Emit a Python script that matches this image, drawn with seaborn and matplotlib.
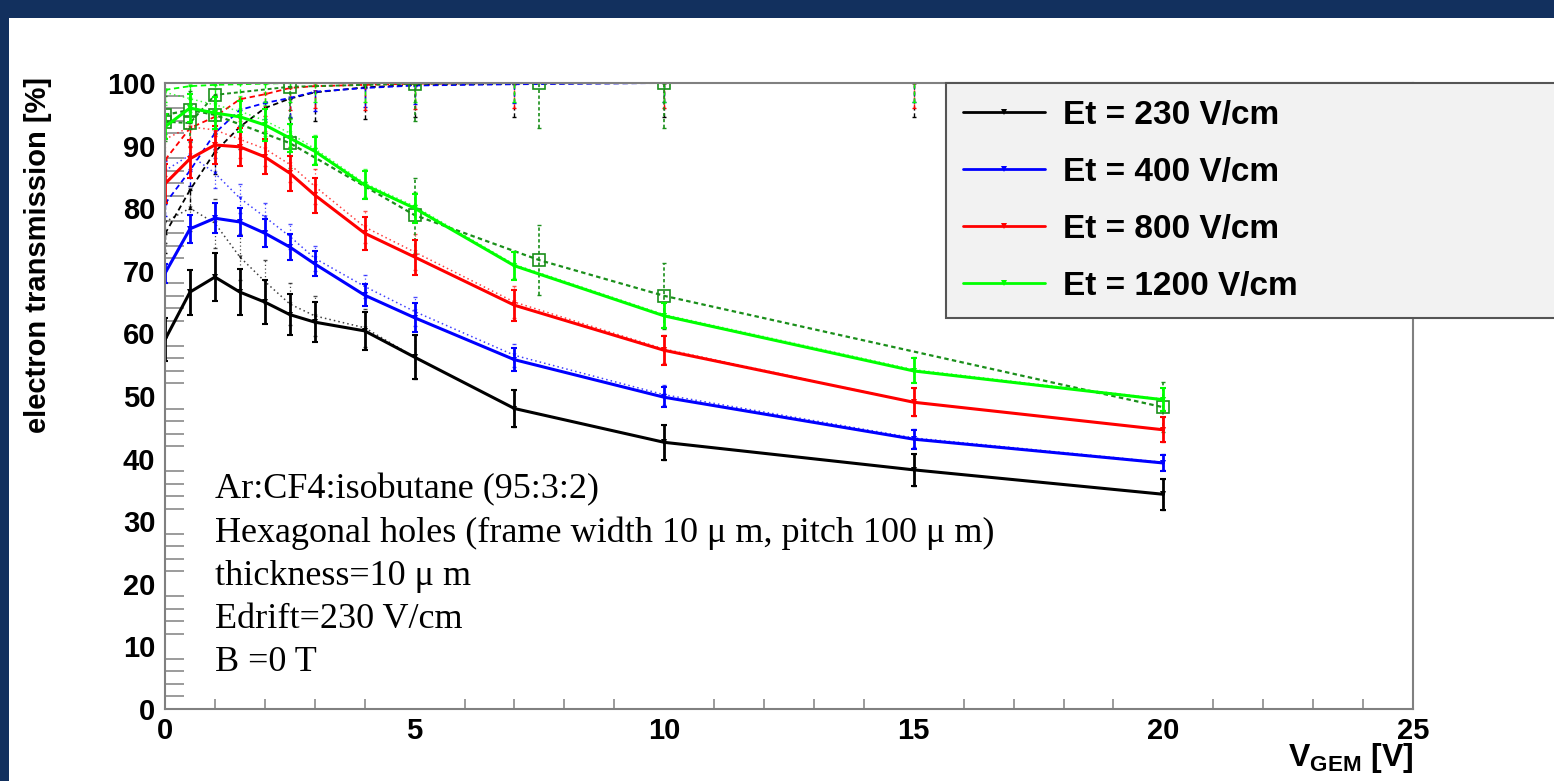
import numpy as np
import pandas as pd
import matplotlib
matplotlib.use('Agg')
import matplotlib.pyplot as plt
from matplotlib.lines import Line2D
from matplotlib.patches import Rectangle
from matplotlib.ticker import MultipleLocator
import seaborn as sns

# ---- data ----
v_gem = [0, 0.5, 1, 1.5, 2, 2.5, 3, 4, 5, 7, 10, 15, 20]
et_labels = ['Et = 230 V/cm', 'Et = 400 V/cm', 'Et = 800 V/cm', 'Et = 1200 V/cm']
et_colors = ['#000000', '#0000ff', '#ff0000', '#00ff00']

# solid curves: electron transmission
trans_230 = [59.0, 66.6, 69.0, 66.6, 65.0, 63.0, 61.8, 60.4, 56.2, 48.0, 42.6, 38.2, 34.3]
trans_400 = [69.6, 76.7, 78.4, 77.8, 76.0, 73.8, 71.1, 66.1, 62.5, 55.8, 49.8, 43.1, 39.3]
trans_800 = [83.9, 87.9, 90.1, 89.8, 88.2, 85.6, 82.1, 76.0, 72.2, 64.5, 57.3, 49.0, 44.6]
trans_1200 = [93.0, 96.0, 95.2, 94.6, 93.3, 91.2, 89.1, 83.7, 80.0, 70.8, 62.8, 54.0, 49.4]
err_230 = [3.4, 3.6, 3.9, 3.7, 3.5, 3.3, 3.2, 3.0, 3.5, 3.0, 2.8, 2.6, 2.5]
err_400 = [1.5, 2.2, 2.4, 2.3, 2.2, 2.0, 2.0, 1.8, 2.3, 1.8, 1.6, 1.5, 1.3]
err_800 = [3.1, 3.0, 3.0, 3.0, 2.8, 2.8, 2.8, 2.6, 2.8, 2.5, 2.3, 2.2, 2.0]
err_1200 = [2.0, 2.2, 2.5, 2.5, 2.5, 2.3, 2.2, 2.2, 2.3, 2.2, 2.0, 2.0, 1.8]

# dotted curves
dot_230 = [77.8, 80.0, 77.6, 72.2, 68.3, 64.7, 62.8, 60.9, 56.2, 48.0, 42.6, 38.2, 34.3]
dot_400 = [86.0, 88.5, 85.6, 81.6, 78.6, 75.5, 72.0, 67.5, 63.5, 56.5, 50.2, 43.3, 39.4]
dot_800 = [91.0, 93.0, 92.5, 91.0, 89.5, 87.0, 83.5, 77.0, 73.0, 65.0, 57.5, 49.0, 44.6]
dot_1200 = [98.5, 97.5, 96.5, 95.5, 94.0, 92.0, 89.5, 84.0, 80.3, 71.0, 63.0, 54.2, 49.5]

# dashed curves rising to 100 %
dash_230 = [75.9, 82.9, 89.0, 93.0, 96.0, 97.5, 98.5, 99.3, 99.7, 99.9, 100.0, 100.0, 100.0]
dash_400 = [80.7, 86.0, 92.0, 95.7, 96.8, 97.6, 98.6, 99.2, 99.6, 99.8, 100.0, 100.0, 100.0]
dash_800 = [87.7, 92.8, 94.6, 97.4, 98.2, 99.2, 99.5, 99.7, 99.9, 100.0, 100.0, 100.0, 100.0]
dash_1200 = [98.9, 99.5, 99.7, 99.8, 99.9, 100.0, 100.0, 100.0, 100.0, 100.0, 100.0, 100.0, 100.0]
dash_lo_230 = [3.0, 3.0, 3.5, 3.5, 4.0, 4.0, 4.5, 5.0, 5.2, 5.4, 5.4, 5.4, 5.4]
dash_lo_400 = [2.0, 2.5, 2.5, 2.5, 2.5, 3.0, 3.0, 3.0, 3.0, 3.0, 3.0, 3.0, 3.0]
dash_lo_800 = [2.5, 3.0, 3.0, 3.0, 3.5, 3.5, 3.5, 4.0, 4.0, 4.0, 4.0, 4.0, 4.0]
dash_lo_1200 = [2.0, 2.0, 2.5, 2.5, 3.0, 3.0, 3.0, 3.0, 3.0, 3.0, 3.0, 3.0, 3.0]

# dark green squares
sq_v = [0, 0.5, 1, 2.5, 5, 7.5, 10, 20]
sq_low = [94.9, 95.7, 94.9, 90.4, 78.9, 71.7, 66.0, 48.2]
sq_low_err = [3.0, 3.0, 3.0, 4.0, 6.0, 5.6, 5.3, 4.0]
sq_high = [93.8, 93.6, 98.1, 99.4, 99.9, 100.0, 100.0, 100.0]
sq_high_lo = [3.0, 3.0, 4.0, 5.0, 6.0, 7.2, 7.2, 7.0]

annot_lines = ['Ar:CF4:isobutane (95:3:2)',
               'Hexagonal holes (frame width 10 \u03bc m, pitch 100 \u03bc m)',
               'thickness=10 \u03bc m',
               'Edrift=230 V/cm',
               'B =0 T']

solid = [trans_230, trans_400, trans_800, trans_1200]
solid_err = [err_230, err_400, err_800, err_1200]
dotted = [dot_230, dot_400, dot_800, dot_1200]
dashed = [dash_230, dash_400, dash_800, dash_1200]
dashed_lo = [dash_lo_230, dash_lo_400, dash_lo_800, dash_lo_1200]

rows = []
for lab, s, d, u in zip(et_labels, solid, dotted, dashed):
    for i, v in enumerate(v_gem):
        rows.append((lab, 'solid', v, s[i]))
        rows.append((lab, 'dotted', v, d[i]))
        rows.append((lab, 'dashed', v, u[i]))
df = pd.DataFrame(rows, columns=['Et', 'kind', 'V', 'T'])
pal = dict(zip(et_labels, et_colors))

sns.set_theme(style='white')
plt.rcParams['font.family'] = ['Liberation Sans', 'DejaVu Sans']
plt.rcParams['text.color'] = 'black'
plt.rcParams['mathtext.fontset'] = 'custom'
plt.rcParams['mathtext.bf'] = 'Liberation Sans:bold'
plt.rcParams['mathtext.rm'] = 'Liberation Sans'

fig = plt.figure(figsize=(15.54, 7.81), dpi=100)
fig.patch.set_facecolor('#12305e')
fig.patches.append(Rectangle((9 / 1554, 0), 1, 1 - 18 / 781, transform=fig.transFigure,
                             facecolor='white', edgecolor='none', zorder=-10))
ax = fig.add_axes([165 / 1554, 1 - 709 / 781, 1248 / 1554, 626 / 781])
ax.set_facecolor('white')

# upper dashed curves
sns.lineplot(data=df[df.kind == 'dashed'], x='V', y='T', hue='Et', palette=pal, ax=ax,
             legend=False, sort=False, estimator=None, lw=1.3, linestyle=(0, (3, 2)),
             marker='v', markersize=3, markeredgewidth=0)
for c, y, lo in zip(et_colors, dashed, dashed_lo):
    eb = ax.errorbar(v_gem, y, yerr=[lo, [0] * len(lo)], fmt='none', ecolor=c,
                     elinewidth=1.0, capsize=1.5)
    eb[2][0].set_linestyle((0, (3, 2)))

# dotted curves
sns.lineplot(data=df[df.kind == 'dotted'], x='V', y='T', hue='Et', palette=pal, ax=ax,
             legend=False, sort=False, estimator=None, lw=1.1, linestyle=(0, (1, 2)),
             alpha=0.75, marker='v', markersize=3, markeredgewidth=0)
for c, y, e in zip(et_colors, dotted, solid_err):
    eb = ax.errorbar(v_gem, y, yerr=e, fmt='none', ecolor=c, elinewidth=0.9,
                     capsize=1.5, alpha=0.7)
    eb[2][0].set_linestyle((0, (1, 2)))

# dark green squares
sq_col = '#1a8f1a'
ax.plot(sq_v, sq_low, color=sq_col, lw=1.6, ls=(0, (2, 1.5)), marker='s', ms=8,
        mfc='none', mec=sq_col, mew=1.2)
ax.plot(sq_v, sq_high, color=sq_col, lw=1.4, ls=(0, (2, 1.5)), marker='s', ms=8,
        mfc='none', mec=sq_col, mew=1.2)
eb = ax.errorbar(sq_v, sq_low, yerr=sq_low_err, fmt='none', ecolor=sq_col,
                 elinewidth=1.2, capsize=1.5)
eb[2][0].set_linestyle((0, (2, 1.5)))
eb = ax.errorbar(sq_v, sq_high, yerr=[sq_high_lo, [0] * len(sq_high_lo)], fmt='none',
                 ecolor=sq_col, elinewidth=1.2, capsize=1.5)
eb[2][0].set_linestyle((0, (2, 1.5)))

# solid transmission curves
sns.lineplot(data=df[df.kind == 'solid'], x='V', y='T', hue='Et', palette=pal, ax=ax,
             legend=False, sort=False, estimator=None, lw=2.2,
             marker='v', markersize=4, markeredgewidth=0)
for c, y, e in zip(et_colors, solid, solid_err):
    ax.errorbar(v_gem, y, yerr=e, fmt='none', ecolor=c, elinewidth=2.0, capsize=2.5,
                capthick=1.5)

ax.set_xlim(0, 25)
ax.set_ylim(0, 100)
ax.xaxis.set_major_locator(MultipleLocator(5))
ax.xaxis.set_minor_locator(MultipleLocator(1))
ax.yaxis.set_major_locator(MultipleLocator(10))
ax.yaxis.set_minor_locator(MultipleLocator(2))
ax.set_xlabel('')
ax.set_ylabel('')
frame_col = '#808080'
for sp in ax.spines.values():
    sp.set_color(frame_col)
    sp.set_linewidth(1.5)
ax.tick_params(axis='y', which='major', direction='in', length=27, width=1.3,
               color=frame_col, pad=7, labelsize=21, labelcolor='black')
ax.tick_params(axis='y', which='minor', direction='in', length=14, width=1.1,
               color=frame_col, left=True)
ax.tick_params(axis='x', which='major', direction='in', length=14, width=1.3,
               color=frame_col, pad=6, labelsize=21, labelcolor='black')
ax.tick_params(axis='x', which='minor', direction='in', length=7, width=1.1,
               color=frame_col, bottom=True)
for lab in ax.get_xticklabels() + ax.get_yticklabels():
    lab.set_fontweight('bold')

fig.text(38 / 1554, 1 - 255 / 781, 'electron transmission [%]', rotation=90,
         ha='center', va='center', fontsize=21, fontweight='bold', color='black')
fig.text(1413 / 1554, 1 - 758 / 781, r'V$_{\mathbf{GEM}}$ [V]', ha='right',
         va='center', fontsize=23, fontweight='bold', color='black')

for i, t in enumerate(annot_lines):
    ax.text(0.040, (709 - 490 - 43.2 * i) / 626, t, transform=ax.transAxes,
            ha='left', va='center', fontsize=26, color='black',
            family=['Liberation Serif', 'DejaVu Serif'])

handles = [Line2D([], [], color=c, lw=2, marker='v', markersize=5, markeredgewidth=0)
           for c in et_colors]
leg = ax.legend(handles, et_labels, loc='upper left', mode='expand',
                bbox_to_anchor=(946 / 1554, 0, 700 / 1554, 1 - 83 / 781),
                bbox_transform=fig.transFigure, borderaxespad=0, numpoints=1,
                handlelength=2.46, handletextpad=0.54, labelspacing=0.78,
                borderpad=0.5, fancybox=False, framealpha=1,
                prop={'weight': 'bold', 'size': 24})
for txt in leg.get_texts():
    txt.set_color('black')
leg.get_frame().set_facecolor('#f2f2f2')
leg.get_frame().set_edgecolor('#555555')
leg.get_frame().set_linewidth(1.5)

fig.savefig('out.png', dpi=100, facecolor=fig.get_facecolor())
